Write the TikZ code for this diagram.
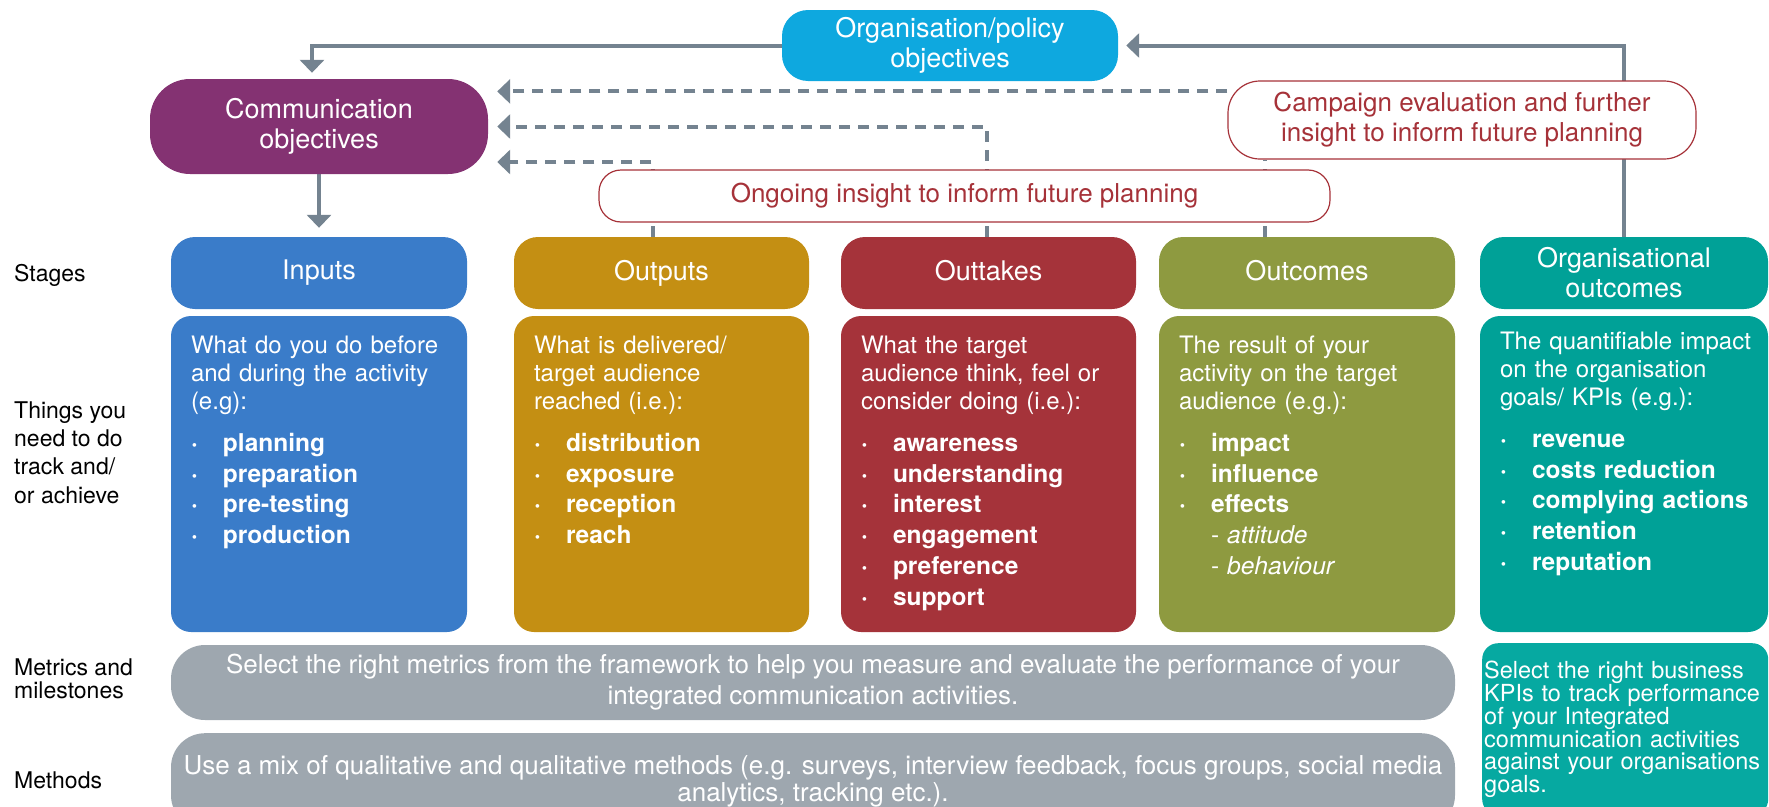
\documentclass[tikz,border=0pt]{standalone}
\usepackage{fontspec}
\setmainfont{TeX Gyre Heros}
\usetikzlibrary{arrows.meta}

\definecolor{cobj}{RGB}{14,168,223}
\definecolor{ccomm}{RGB}{132,50,114}
\definecolor{cinputs}{RGB}{58,124,201}
\definecolor{coutputs}{RGB}{196,143,19}
\definecolor{couttakes}{RGB}{165,51,58}
\definecolor{coutcomes}{RGB}{142,154,64}
\definecolor{corgout}{RGB}{0,161,151}
\definecolor{ckpi}{RGB}{6,169,161}
\definecolor{cgrey}{RGB}{158,167,175}
\definecolor{cline}{RGB}{116,131,144}
\definecolor{cnote}{RGB}{166,50,57}

\pgfdeclarelayer{bg}
\pgfsetlayers{bg,main}

\newcommand{\fhead}{\fontsize{27}{30}\selectfont}
\newcommand{\fbody}{\fontsize{24}{28}\selectfont}
\newcommand{\fgrey}{\fontsize{26}{31}\selectfont}
\newcommand{\fbul}{\fontsize{24.5}{30.7}\selectfont\bfseries}
\newcommand{\fside}{\fontsize{23}{28.3}\selectfont}
\newcommand{\fred}{\fontsize{26}{30}\selectfont}
\newcommand{\fkpi}{\fontsize{23.5}{21.7}\selectfont}
\newcommand{\bulitem}[1]{\makebox[32pt][l]{·}#1}
\newcommand{\subitm}[1]{\hspace*{32pt}{\mdseries -\ \textit{#1}}}

\tikzset{
  headbox/.style={fill=#1, rounded corners=24pt, minimum height=72pt,
    inner sep=0pt, text=white, font=\fhead, align=center},
  bodybox/.style={fill=#1, rounded corners=20pt, minimum height=316pt, inner sep=0pt},
  bodytext/.style={text=white, text width=270pt, align=left, inner sep=0pt,
    anchor=base west, font=\fbody},
  notebox/.style={draw=cnote, line width=1.2pt, fill=white, text=cnote,
    font=\fred, align=center, inner sep=0pt},
  greybox/.style={fill=cgrey, rounded corners=34pt, minimum width=1284pt,
    inner sep=0pt, text=white, font=\fgrey, align=center},
  sidelabel/.style={anchor=west, align=left, inner sep=0pt, font=\fside},
  link/.style={draw=cline, line width=4pt, -{Triangle[width=24pt,length=13pt]}},
  dashlink/.style={link, dash pattern=on 11pt off 8pt},
}

\begin{document}
\begin{tikzpicture}[x=1pt,y=-1pt]
\useasboundingbox (0,0) rectangle (1769,806);
\clip (0,0) rectangle (1769,806);

% objectives and feedback boxes
\node[headbox=cobj, rounded corners=26pt, minimum width=336pt, minimum height=71pt]
  (orgobj) at (950,45.5) {Organisation/policy\\objectives};
\node[headbox=ccomm, rounded corners=40pt, minimum width=338pt, minimum height=95pt]
  (commobj) at (319,126.5) {Communication\\objectives};
\node[notebox, rounded corners=32pt, minimum width=468pt, minimum height=78pt]
  (campaign) at (1462,120) {Campaign evaluation and further\\insight to inform future planning};
\node[notebox, rounded corners=22pt, minimum width=731pt, minimum height=52pt]
  (ongoing) at (964.5,196) {Ongoing insight to inform future planning};

% stages
\foreach \nm/\cx/\bw/\col/\lbl in {inputs/319/296/cinputs/Inputs,
    outputs/661.5/295/coutputs/Outputs, outtakes/988.5/295/couttakes/Outtakes,
    outcomes/1307/296/coutcomes/Outcomes, orgout/1624/288/corgout/{Organisational\\outcomes}} {
  \node[headbox=\col, minimum width=\bw] (\nm) at (\cx,273) {\vphantom{Ayp}\lbl};
  \node[bodybox=\col, minimum width=\bw] (\nm-box) at (\cx,474) {};
}

\node[bodytext] (inputs-txt) at ([xshift=20pt,yshift=-38pt]inputs-box.north west)
  {What do you do before\\and during the activity\\(e.g):\par\vspace{11pt}
   {\fbul \bulitem{planning}\\\bulitem{preparation}\\\bulitem{pre-testing}\\\bulitem{production}\par}};
\node[bodytext] (outputs-txt) at ([xshift=20pt,yshift=-38pt]outputs-box.north west)
  {What is delivered/\\target audience\\reached (i.e.):\par\vspace{11pt}
   {\fbul \bulitem{distribution}\\\bulitem{exposure}\\\bulitem{reception}\\\bulitem{reach}\par}};
\node[bodytext] (outtakes-txt) at ([xshift=20pt,yshift=-38pt]outtakes-box.north west)
  {What the target\\audience think, feel or\\consider doing (i.e.):\par\vspace{11pt}
   {\fbul \bulitem{awareness}\\\bulitem{understanding}\\\bulitem{interest}\\
    \bulitem{engagement}\\\bulitem{preference}\\\bulitem{support}\par}};
\node[bodytext] (outcomes-txt) at ([xshift=20pt,yshift=-38pt]outcomes-box.north west)
  {The result of your\\activity on the target\\audience (e.g.):\par\vspace{11pt}
   {\fbul \bulitem{impact}\\\bulitem{influence}\\\bulitem{effects}\\
    \subitm{attitude}\\\subitm{behaviour}\par}};
\node[bodytext] (orgout-txt) at ([xshift=20pt,yshift=-34pt]orgout-box.north west)
  {The quantifiable impact\\on the organisation\\goals/ KPIs (e.g.):\par\vspace{11pt}
   {\fbul \bulitem{revenue}\\\bulitem{costs reduction}\\\bulitem{complying actions}\\
    \bulitem{retention}\\\bulitem{reputation}\par}};

% metrics and methods
\node[greybox, minimum height=75pt] (metrics) at (813,682.5)
  {Select the right metrics from the framework to help you measure and evaluate the performance of your\\integrated communication activities.};
\node[greybox, minimum height=96pt, anchor=north, font=\fontsize{26}{27}\selectfont]
  (methods) at (813,733)
  {Use a mix of qualitative and qualitative methods (e.g. surveys, interview feedback, focus groups, social media\\analytics, tracking etc.).};
\node[fill=ckpi, rounded corners=16pt, minimum width=286pt, minimum height=172pt,
  text width=282pt, inner xsep=2pt, inner ysep=0pt, align=left, text=white,
  font=\fkpi, anchor=north west] (kpis) at (1482,643)
  {Select the right business\\KPIs to track performance\\of your Integrated\\communication activities\\against your organisations\\goals.};

% row labels
\node[sidelabel] (lblstages) at (14,275) {Stages};
\node[sidelabel] (lblthings) at (14,452.5) {Things you\\need to do\\track and/\\or achieve};
\node[sidelabel, font=\fontsize{23}{23}\selectfont] (lblmetrics) at (14,678.5) {Metrics and\\milestones};
\node[sidelabel] (lblmethods) at (14,780) {Methods};

\begin{pgfonlayer}{bg}
\draw[link, shorten >=6pt] (orgobj.west) -| ([xshift=-7pt]commobj.north);
\draw[link, shorten >=9pt] (commobj.south) -- (inputs.north);
\draw[link, shorten >=8pt] (orgout.north) |- (orgobj.east);

\coordinate (fb) at ([yshift=-11pt]campaign.north west);
\draw[dashlink, shorten >=9pt] (fb) -- (fb -| commobj.east);
\draw[dashlink, shorten >=9pt] ([xshift=-2pt]outtakes.north) |- (commobj.east);
\draw[dashlink, shorten >=9pt] ([xshift=-9pt]outputs.north) |- ([yshift=-35.5pt]commobj.east);
\draw[dashlink, -] ([xshift=-42pt]outcomes.north) -- ([xshift=-42pt]outcomes.north |- campaign.south);
\end{pgfonlayer}

\end{tikzpicture}
\end{document}
